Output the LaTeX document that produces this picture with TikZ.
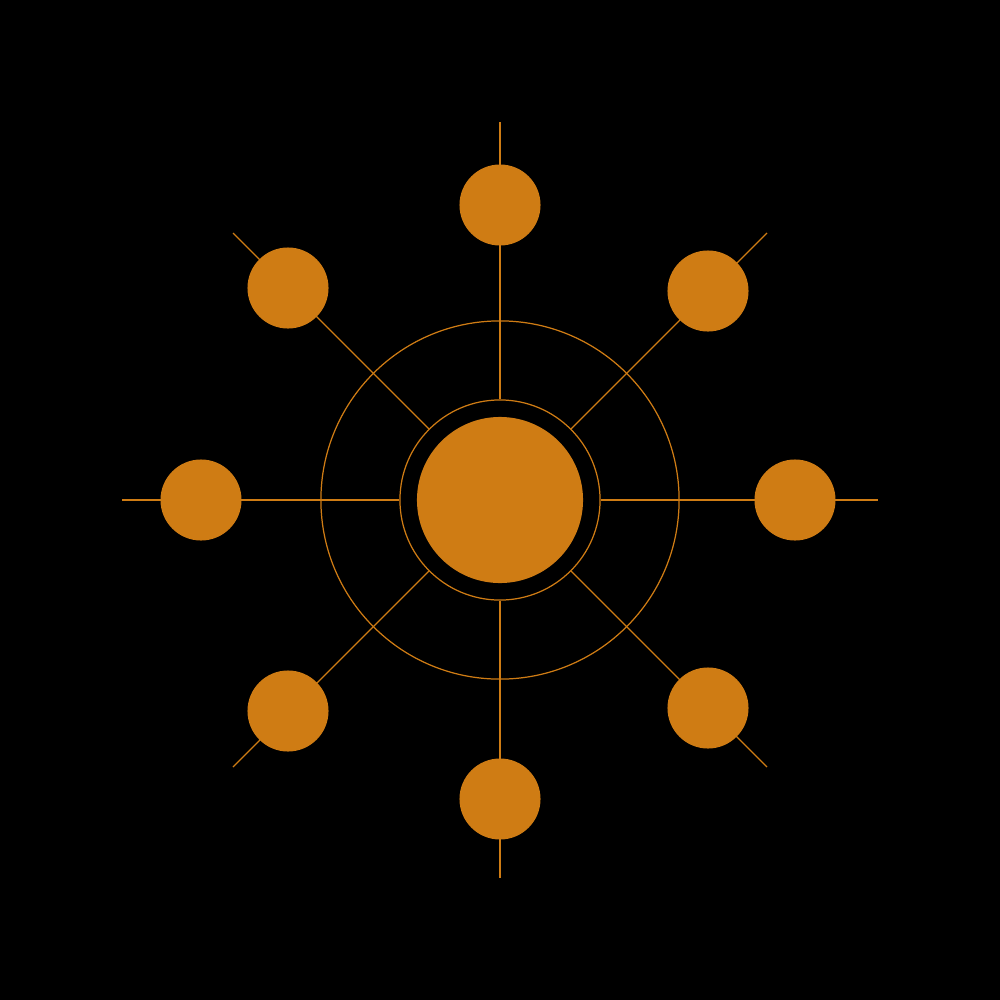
\documentclass[tikz,border=0pt]{standalone}
\definecolor{amber}{RGB}{207,124,20}
\begin{document}
\begin{tikzpicture}[x=0.01cm,y=-0.01cm,
  spoke/.style={draw=amber,line width=0.35pt},
  sat/.style={circle,fill=amber,inner sep=0pt,minimum size=0.81cm},
  hub/.style={circle,fill=amber,inner sep=0pt,minimum size=1.66cm},
  ringc/.style={circle,draw=amber,line width=0.35pt,inner sep=0pt,minimum size=2.0cm},
  outerc/.style={circle,draw=amber,line width=0.35pt,inner sep=0pt,minimum size=3.58cm}]
\fill[black] (0,0) rectangle (1000,1000);
\useasboundingbox (0,0) rectangle (1000,1000);
\node[outerc] (outer) at (500,500) {};
\node[ringc] (ring) at (500,500) {};
\node[hub] (hub) at (500,500) {};
\coordinate (eT) at (500,122);
\coordinate (eB) at (500,878);
\coordinate (eL) at (122,500);
\coordinate (eR) at (878,500);
\coordinate (eTL) at (233,233);
\coordinate (eTR) at (767,233);
\coordinate (eBL) at (233,767);
\coordinate (eBR) at (767,767);
\foreach \e in {eT,eB,eL,eR,eTL,eTR,eBL,eBR}
  \draw[spoke] (ring) -- (\e);
\node[sat] (sT) at (500,205) {};
\node[sat] (sB) at (500,799) {};
\node[sat] (sL) at (201,500) {};
\node[sat] (sR) at (795,500) {};
\node[sat] (sTL) at (288,288) {};
\node[sat] (sTR) at (708,291) {};
\node[sat] (sBL) at (288,711) {};
\node[sat] (sBR) at (708,708) {};
\end{tikzpicture}
\end{document}
